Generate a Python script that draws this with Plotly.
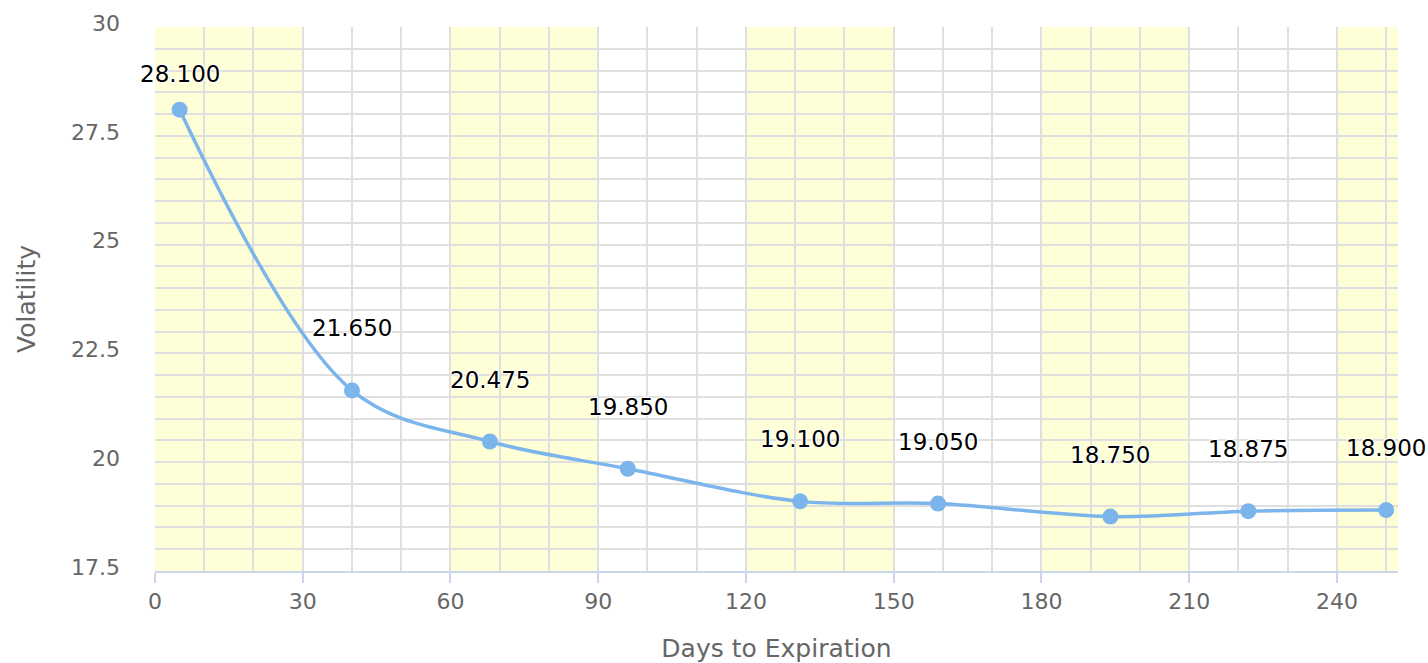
import plotly.graph_objects as go

# ---- data ----
days = [5, 40, 68, 96, 131, 159, 194, 222, 250]
volatility = [28.100, 21.650, 20.475, 19.850, 19.100, 19.050, 18.750, 18.875, 18.900]
band_starts = [0, 60, 120, 180, 240]
band_width = 30
x_title = "Days to Expiration"
y_title = "Volatility"

LINE = "#7cb5ec"
GRID = "#dfdfdf"
TICKC = "#666666"
FONT = "DejaVu Sans"

fig = go.Figure()
fig.add_trace(go.Scatter(
    x=days, y=volatility, mode="lines+markers",
    line=dict(color=LINE, width=3.5, shape="spline", smoothing=1.0),
    marker=dict(color=LINE, size=16),
    hoverinfo="x+y", showlegend=False,
))

for b in band_starts:
    fig.add_shape(type="rect", xref="x", yref="paper", x0=b, x1=b + band_width,
                  y0=0, y1=1, fillcolor="#FEFFD6", line_width=0, layer="below")

annotations = []
for i, (d, v) in enumerate(zip(days, volatility)):
    annotations.append(dict(
        x=d, y=v, xref="x", yref="y", text=f"{v:.3f}", showarrow=False,
        yshift=36 if i == 0 else 62,
        font=dict(family=FONT, size=23, color="#000000", shadow="auto"),
    ))

fig.update_layout(
    width=1428, height=663,
    margin=dict(l=155, r=30, t=27, b=92),
    paper_bgcolor="white", plot_bgcolor="rgba(0,0,0,0)",
    font=dict(family=FONT, color=TICKC),
    annotations=annotations,
    xaxis=dict(
        range=[0, 252.4], tickmode="linear", tick0=0, dtick=30,
        showgrid=True, gridcolor=GRID, gridwidth=2,
        minor=dict(tickmode="linear", tick0=0, dtick=10, showgrid=True,
                   gridcolor=GRID, gridwidth=2),
        ticks="outside", ticklen=10, tickcolor="#ccd6eb", tickwidth=1.5,
        showline=True, linecolor="#ccd6eb", linewidth=2,
        tickfont=dict(family=FONT, size=22, color=TICKC),
        title=dict(text=x_title, font=dict(family=FONT, size=25, color=TICKC), standoff=26),
        zeroline=False, automargin=False,
    ),
    yaxis=dict(
        range=[17.5, 30], tickmode="linear", tick0=17.5, dtick=2.5,
        showgrid=True, gridcolor=GRID, gridwidth=2,
        minor=dict(tickmode="linear", tick0=17.5, dtick=0.5, showgrid=True,
                   gridcolor=GRID, gridwidth=2),
        ticks="", ticklabelstandoff=34, ticklabelshift=-4,
        tickfont=dict(family=FONT, size=22, color=TICKC),
        tickformat="~g",
        title=dict(text=y_title, font=dict(family=FONT, size=25, color=TICKC), standoff=28),
        zeroline=False, showline=False, automargin=False,
    ),
)

fig.write_html(
    "out.html",
    config={"displayModeBar": False},
    post_script="document.body.style.margin='0';document.body.style.overflow='hidden';",
)
